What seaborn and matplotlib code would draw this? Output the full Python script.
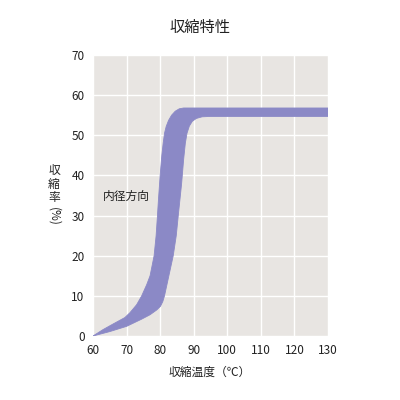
import numpy as np
import pandas as pd
import seaborn as sns
import matplotlib.pyplot as plt

# 収縮特性 (内径方向) - 帯の上側と下側の境界
temp_upper = [60, 63, 66, 69.5, 71, 73, 74.5, 76, 77, 78.2, 78.8, 79.2, 79.5, 80, 80.5, 80.9,
              81.3, 81.8, 82.5, 83.4, 84.5, 85.7, 87, 130]
rate_upper = [0, 1.6, 3, 4.6, 5.8, 7.8, 10, 12.8, 15, 20, 25, 30, 34, 40, 45, 48,
              50.5, 52.2, 53.7, 55, 56, 56.6, 56.8, 56.8]
temp_lower = [60, 65, 70, 74.5, 77, 79, 80.1, 80.8, 81.3, 82.6, 83.9, 84.8, 85.4, 85.9, 86.4,
              87, 87.5, 88, 88.7, 89.6, 90.8, 92.5, 95, 130]
rate_lower = [0, 1.1, 2.4, 4.2, 5.3, 6.5, 7.4, 8.6, 10, 15, 20, 25, 30, 34, 38,
              44, 48, 50.5, 52.3, 53.5, 54.2, 54.6, 54.7, 54.7]

x_ticks = [60, 70, 80, 90, 100, 110, 120, 130]
y_ticks = [0, 10, 20, 30, 40, 50, 60, 70]

sns.set_theme(style="darkgrid", rc={
    "axes.facecolor": "#e8e5e2",
    "grid.color": "white",
    "grid.linewidth": 1.0,
})
plt.rcParams['font.family'] = ['Noto Sans CJK JP', 'DejaVu Sans']

fig = plt.figure(figsize=(4, 4), dpi=100)
ax = fig.add_axes([0.2325, 0.16, 0.5875, 0.7025])

# 境界線と塗りつぶし
band = '#8b89c6'
df_up = pd.DataFrame({'temp': temp_upper, 'rate': rate_upper})
df_lo = pd.DataFrame({'temp': temp_lower, 'rate': rate_lower})
sns.lineplot(data=df_up, x='temp', y='rate', ax=ax, color=band, linewidth=0.6)
sns.lineplot(data=df_lo, x='temp', y='rate', ax=ax, color=band, linewidth=0.6)
poly_x = np.concatenate([temp_upper, temp_lower[::-1]])
poly_y = np.concatenate([rate_upper, rate_lower[::-1]])
ax.fill(poly_x, poly_y, color=band, linewidth=0)

ax.set_xlim(60, 130)
ax.set_ylim(0, 70)
ax.set_xticks(x_ticks)
ax.set_yticks(y_ticks)
ax.tick_params(axis='both', length=0, labelsize=8.5, labelcolor='#222222', pad=6)
for s in ax.spines.values():
    s.set_visible(False)
ax.set_xlabel('')
ax.set_ylabel('')

ax.text(70, 34.7, '内径方向', fontsize=8.5, color='#222222', ha='center', va='center')

fig.text(0.5, 0.932, '収縮特性', fontsize=11, color='#222222', ha='center', va='center')
fig.text(0.525, 0.07, '収縮温度（℃）', fontsize=8.5, color='#222222', ha='center', va='center')
# 縦書きのy軸ラベル
for ch, yy in zip(['収', '縮', '率'], [0.573, 0.538, 0.505]):
    fig.text(0.135, yy, ch, fontsize=8.5, color='#222222', ha='center', va='center')
fig.text(0.135, 0.458, '(%)', fontsize=8.5, color='#222222', ha='center', va='center',
         rotation=-90)

fig.savefig('out.png', dpi=100)
